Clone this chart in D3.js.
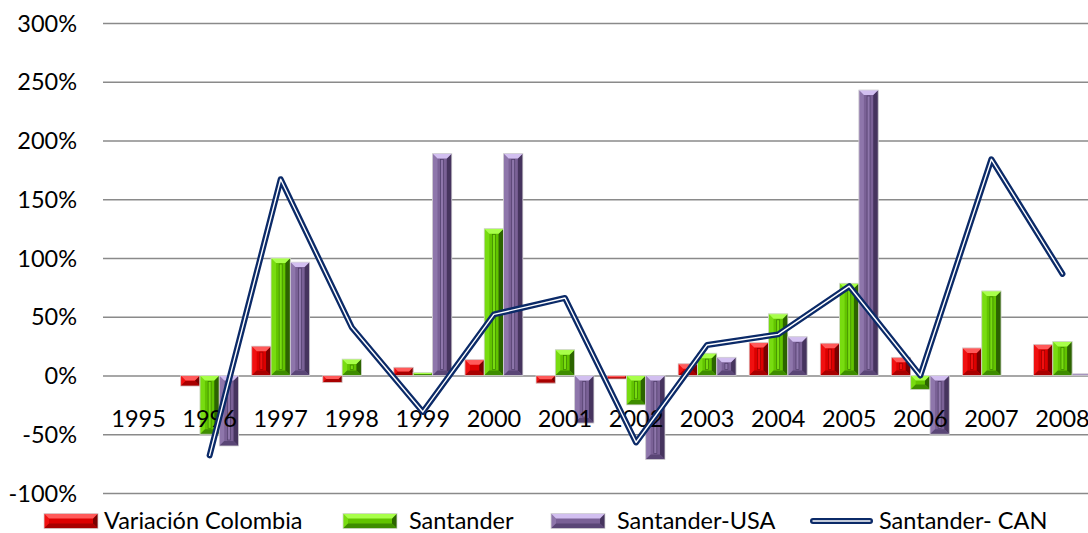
<!DOCTYPE html>
<html>
<head>
<meta charset="utf-8">
<script src="https://cdn.jsdelivr.net/npm/d3@7/dist/d3.min.js"></script>
<style>
  html, body { margin: 0; padding: 0; background: #fff; overflow: hidden; }
  svg { display: block; }
  text { font-family: Lato, "Open Sans", sans-serif; fill: #000; }
</style>
</head>
<body>
<svg id="chart" width="1088" height="533"></svg>
<script>
// ---- data ----
const years = ["1995","1996","1997","1998","1999","2000","2001","2002","2003","2004","2005","2006","2007","2008"];
const variacionColombia = [null, -9, 25, -6, 7, 13.5, -6.5, -3, 10, 28, 27.5, 15.5, 23.5, 26.5];
const santander = [null, -50, 100, 14, 2.5, 125, 22, -25, 19, 52.5, 78.5, -12, 72, 29];
const santanderUSA = [null, -60, 96.5, 0, 189, 189, -40.5, -71.5, 15.5, 33, 243, -50, 0, 1.5];
const santanderCAN = [null, -68, 167, 41, -31, 52, 66, -57, 26, 35, 76, 0, 184, 86.5];
const yTicks = [-100, -50, 0, 50, 100, 150, 200, 250, 300];
const seriesNames = ["Variación Colombia", "Santander", "Santander-USA"];
const lineName = "Santander- CAN";

// ---- styles ----
const FS = 23.5;
const palettes = [
  { base: "#dd0000", top: "#ff5a5a", left: "#f01010", right: "#7a0000", bottom: "#a80000", ridge: "#9a0000" },
  { base: "#62c400", top: "#a8ff4a", left: "#78dc10", right: "#2c6400", bottom: "#3e8c00", ridge: "#3a8000" },
  { base: "#7a6196", top: "#d2bff0", left: "#8e76ab", right: "#46345e", bottom: "#5a4676", ridge: "#4e3c68" }
];
const navy = "#0b2a68";

const svg = d3.select("#chart");
const plotLeft = 103, plotRight = 1098, plotTop = 23, plotBottom = 493;

const x0 = d3.scaleBand().domain(years).range([plotLeft, plotRight]).padding(0);
const groupW = x0.bandwidth() * 0.815;
const x1 = d3.scaleBand().domain([0,1,2]).range([0, groupW]).padding(0);
const y = d3.scaleLinear().domain([-100, 300]).range([plotBottom, plotTop]);

// gridlines
const grid = svg.append("g").attr("transform", `translate(${plotLeft},0)`)
  .call(d3.axisRight(y).tickValues(yTicks).tickSize(plotRight - plotLeft).tickFormat(""));
grid.select(".domain").remove();
grid.selectAll("line").attr("stroke", "#8a8a8a").attr("stroke-width", 1.4);

// y labels
const yAxis = svg.append("g").attr("transform", `translate(${plotLeft},0)`)
  .call(d3.axisLeft(y).tickValues(yTicks).tickSize(0).tickPadding(26).tickFormat(d => d + "%"));
yAxis.select(".domain").remove();
yAxis.selectAll("text").attr("font-size", FS).attr("font-family", "Lato, sans-serif").attr("fill", "#000").attr("dy", "0.34em");

function bevelBar(g, x, yTop, w, h, pal) {
  const b = Math.min(5, h / 2, w / 2);
  g.append("rect").attr("x", x).attr("y", yTop).attr("width", w).attr("height", h).attr("fill", pal.base);
  const pts = {
    top: [[x,yTop],[x+w,yTop],[x+w-b,yTop+b],[x+b,yTop+b]],
    bottom: [[x,yTop+h],[x+w,yTop+h],[x+w-b,yTop+h-b],[x+b,yTop+h-b]],
    left: [[x,yTop],[x+b,yTop+b],[x+b,yTop+h-b],[x,yTop+h]],
    right: [[x+w,yTop],[x+w-b,yTop+b],[x+w-b,yTop+h-b],[x+w,yTop+h]]
  };
  for (const k of ["left","right","bottom","top"]) {
    g.append("polygon").attr("points", pts[k].map(p => p.join(",")).join(" ")).attr("fill", pal[k]);
  }
  if (h > 2 * b + 6 && w > 2 * b + 2) {
    const cx = x + w / 2;
    g.append("rect").attr("x", cx - 1.5).attr("y", yTop + b + 1).attr("width", 3).attr("height", h - 2 * b - 2)
      .attr("fill", pal.left).attr("stroke", pal.ridge).attr("stroke-width", 0.7);
  }
  g.append("rect").attr("x", x).attr("y", yTop).attr("width", w).attr("height", h)
    .attr("fill", "none").attr("stroke", "#d8d8d8").attr("stroke-width", 0.8);
}

// bars
const seriesData = [variacionColombia, santander, santanderUSA];
const barsG = svg.append("g");
seriesData.forEach((vals, si) => {
  vals.forEach((v, i) => {
    if (v === null || v === 0) return;
    const cx = x0(years[i]) + x0.bandwidth() / 2;
    const bx = cx - groupW / 2 + x1(si);
    const yt = y(Math.max(v, 0));
    const h = Math.abs(y(v) - y(0));
    bevelBar(barsG, bx, yt, x1.bandwidth(), h, palettes[si]);
  });
});

// category labels
const xAxis = svg.append("g").attr("transform", `translate(0,${y(0)})`)
  .call(d3.axisBottom(x0).tickSize(0).tickPadding(0));
xAxis.select(".domain").remove();
xAxis.selectAll("text").attr("font-size", FS).attr("font-family", "Lato, sans-serif").attr("fill", "#000")
  .attr("y", 51.5).attr("dy", 0);

// line
const lineGen = d3.line()
  .defined(d => d.v !== null)
  .x(d => x0(d.year) + x0.bandwidth() / 2)
  .y(d => y(d.v));
const lineData = years.map((yr, i) => ({ year: yr, v: santanderCAN[i] }));
svg.append("path").datum(lineData).attr("d", lineGen).attr("fill", "none")
  .attr("stroke", navy).attr("stroke-width", 6).attr("stroke-linejoin", "round").attr("stroke-linecap", "round");
svg.append("path").datum(lineData).attr("d", lineGen).attr("fill", "none")
  .attr("stroke", "#ffffff").attr("stroke-width", 1.4).attr("stroke-linejoin", "round").attr("stroke-linecap", "round");

// legend
const legendY = 521;
const legendItems = [
  { name: seriesNames[0], type: "bar", pal: palettes[0], sx: 44, sw: 54, tx: 104 },
  { name: seriesNames[1], type: "bar", pal: palettes[1], sx: 343, sw: 54, tx: 409 },
  { name: seriesNames[2], type: "bar", pal: palettes[2], sx: 551, sw: 54, tx: 617 },
  { name: lineName, type: "line", sx: 813, sw: 57, tx: 879 }
];
const lg = svg.append("g");
legendItems.forEach(it => {
  if (it.type === "bar") {
    bevelBar(lg, it.sx, legendY - 7.5, it.sw, 15, it.pal);
  } else {
    lg.append("line").attr("x1", it.sx).attr("x2", it.sx + it.sw).attr("y1", legendY).attr("y2", legendY)
      .attr("stroke", navy).attr("stroke-width", 6).attr("stroke-linecap", "round");
    lg.append("line").attr("x1", it.sx).attr("x2", it.sx + it.sw).attr("y1", legendY).attr("y2", legendY)
      .attr("stroke", "#fff").attr("stroke-width", 1.4).attr("stroke-linecap", "round");
  }
  lg.append("text").attr("x", it.tx).attr("y", legendY + 7.5).attr("font-size", FS).text(it.name);
});
</script>
</body>
</html>
